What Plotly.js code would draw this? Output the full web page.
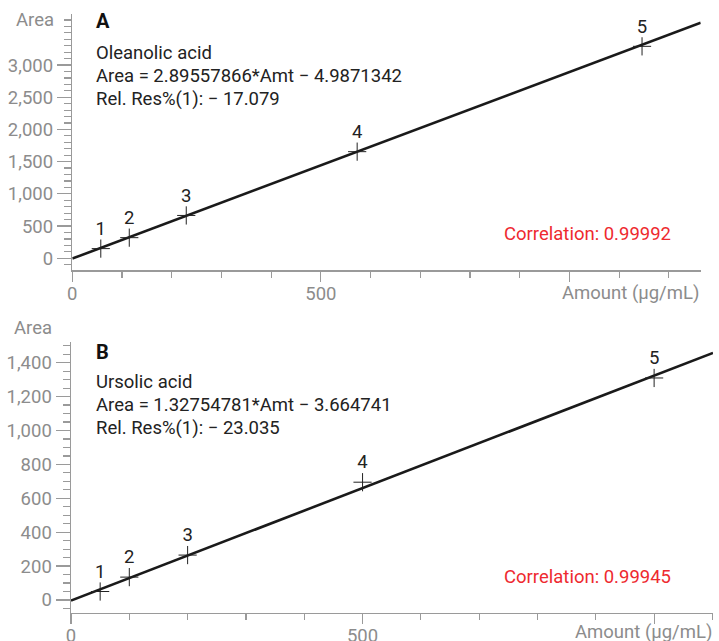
<!DOCTYPE html>
<html>
<head>
<meta charset="utf-8">
<script src="https://cdn.plot.ly/plotly-3.0.1.min.js"></script>
<style>
  html, body { margin: 0; padding: 0; background: #fff; }
  #chart { width: 719px; height: 641px; }
</style>
</head>
<body>
<div id="chart"></div>
<script>
// Calibration standards, panel A (oleanolic acid)
const amountA = [57.3, 114.6, 229.2, 573, 1146];
const areaA = [150, 320, 665, 1655, 3290];
const levelA = ["1", "2", "3", "4", "5"];
const slopeA = 2.89557866;
const interceptA = -4.9871342;

// Calibration standards, panel B (ursolic acid)
const amountB = [50, 100, 200, 500, 1000];
const areaB = [50, 135, 265, 695, 1310];
const levelB = ["1", "2", "3", "4", "5"];
const slopeB = 1.32754781;
const interceptB = -3.664741;

// Tick labels
const yTickValsA = [0, 500, 1000, 1500, 2000, 2500, 3000];
const yTickTextA = ["0", "500", "1,000", "1,500", "2,000", "2,500", "3,000"];
const yTickValsB = [0, 200, 400, 600, 800, 1000, 1200, 1400];
const yTickTextB = ["0", "200", "400", "600", "800", "1,000", "1,200", "1,400"];
const xTickVals = [0, 500, 1000];
const xTickText = ["0", "500", ""];

const W = 719, H = 641;
const px = v => v / W;
const py = v => 1 - v / H;

const xRangeA = [0, 1264];
const xRangeB = [0, 1101];

const FONT = "Roboto, 'Noto Sans', sans-serif";
const FS = 18.5;
const INK = "#222222";
const GREY = "#8c8c8c";
const AXIS = "#9a9a9a";
const RED = "#ee2a2f";

function fitLine(range, slope, intercept, xa, ya) {
  return {
    x: [range[0], range[1]],
    y: [slope * range[0] + intercept, slope * range[1] + intercept],
    xaxis: xa, yaxis: ya,
    mode: "lines",
    line: { color: "#1a1a1a", width: 2.6 },
    hoverinfo: "skip"
  };
}

function standards(x, y, labels, xa, ya) {
  return {
    x: x, y: y, text: labels,
    xaxis: xa, yaxis: ya,
    mode: "markers+text",
    textposition: "top center",
    textfont: { family: FONT, size: FS, color: INK },
    marker: { symbol: "cross-thin", size: 13, line: { color: INK, width: 1 } },
    cliponaxis: false
  };
}

const traces = [
  fitLine(xRangeA, slopeA, interceptA, "x", "y"),
  standards(amountA, areaA, levelA, "x", "y"),
  fitLine(xRangeB, slopeB, interceptB, "x2", "y2"),
  standards(amountB, areaB, levelB, "x2", "y2")
];

function xAxis(domain, range, anchor) {
  return {
    domain: domain, range: range, anchor: anchor,
    showgrid: false, zeroline: false,
    showline: true, linecolor: AXIS, linewidth: 1.5,
    ticks: "outside", ticklen: 10, tickwidth: 1.2, tickcolor: AXIS,
    tickmode: "array", tickvals: xTickVals, ticktext: xTickText,
    ticklabelstandoff: -4,
    tickfont: { family: FONT, size: FS, color: GREY },
    minor: { tickmode: "linear", tick0: 0, dtick: 100, ticks: "outside", ticklen: 6, tickwidth: 1.2, tickcolor: AXIS, showgrid: false },
    fixedrange: true
  };
}

function yAxis(domain, range, anchor, vals, text, minorStep) {
  return {
    domain: domain, range: range, anchor: anchor,
    showgrid: false, zeroline: false,
    showline: true, linecolor: AXIS, linewidth: 1.5,
    ticks: "outside", ticklen: 14, tickwidth: 1.2, tickcolor: AXIS,
    tickmode: "array", tickvals: vals, ticktext: text,
    tickfont: { family: FONT, size: FS, color: GREY },
    minor: { tickmode: "linear", tick0: 0, dtick: minorStep, ticks: "outside", ticklen: 7, tickwidth: 1.2, tickcolor: AXIS, showgrid: false },
    fixedrange: true
  };
}

function note(text, x, y, opts) {
  return Object.assign({
    text: text, xref: "paper", yref: "paper",
    x: px(x), y: py(y), xanchor: "left", yanchor: "middle",
    showarrow: false,
    font: { family: FONT, size: FS, color: INK }
  }, opts || {});
}

const annotations = [
  // panel A
  note("Area", 56, 20, { xanchor: "right", font: { family: FONT, size: FS, color: GREY } }),
  note("<b>A</b>", 94, 21, { font: { family: FONT, size: 20, color: "#111" } }),
  note("Oleanolic acid", 94, 53),
  note("Area = " + slopeA.toFixed(8) + "*Amt \u2212 " + Math.abs(interceptA).toFixed(7), 94, 76),
  note("Rel. Res%(1): \u2212 17.079", 94, 99),
  note("Correlation: 0.99992", 673, 234, { xanchor: "right", font: { family: FONT, size: FS, color: RED } }),
  note("Amount (\u00b5g/mL)", 701, 293, { xanchor: "right", font: { family: FONT, size: FS, color: GREY } }),
  // panel B
  note("Area", 54, 328, { xanchor: "right", font: { family: FONT, size: FS, color: GREY } }),
  note("<b>B</b>", 94, 352, { font: { family: FONT, size: 20, color: "#111" } }),
  note("Ursolic acid", 94, 382),
  note("Area = " + slopeB.toFixed(8) + "*Amt \u2212 " + Math.abs(interceptB).toFixed(6), 94, 405),
  note("Rel. Res%(1): \u2212 23.035", 94, 428),
  note("Correlation: 0.99945", 673, 577, { xanchor: "right", font: { family: FONT, size: FS, color: RED } }),
  note("Amount (\u00b5g/mL)", 714, 632, { xanchor: "right", font: { family: FONT, size: FS, color: GREY } })
];

const layout = {
  width: W, height: H,
  margin: { l: 0, r: 0, t: 0, b: 0 },
  paper_bgcolor: "#ffffff", plot_bgcolor: "#ffffff",
  showlegend: false,
  font: { family: FONT },
  xaxis: xAxis([px(72.3), px(700.7)], xRangeA, "y"),
  yaxis: yAxis([py(270), py(14)], [-182, 3792], "x", yTickValsA, yTickTextA, 100),
  xaxis2: xAxis([px(71), px(713)], xRangeB, "y2"),
  yaxis2: yAxis([py(612.7), py(341.7)], [-75, 1524], "x2", yTickValsB, yTickTextB, 50),
  annotations: annotations
};

Plotly.newPlot("chart", traces, layout, { staticPlot: true, displayModeBar: false });
</script>
</body>
</html>
